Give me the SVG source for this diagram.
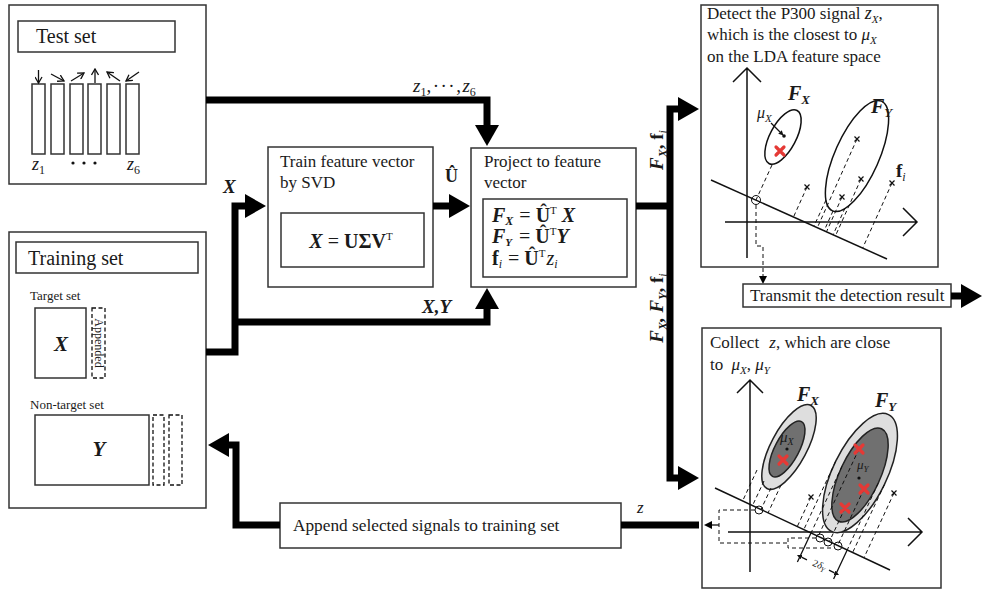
<svg xmlns="http://www.w3.org/2000/svg" width="982" height="590" viewBox="0 0 982 590">
<defs>
<style>
text{font-family:"Liberation Serif","Times New Roman",serif;fill:#1a1a1a}
.box{fill:#fff;stroke:#333;stroke-width:1.5}
.conn{fill:none;stroke:#000;stroke-width:7}
.thin{fill:none;stroke:#111;stroke-width:1.3}
.dash{fill:none;stroke:#111;stroke-width:1;stroke-dasharray:4 3}
.dbox{fill:none;stroke:#111;stroke-width:1.3;stroke-dasharray:4 2.5}
.ax{fill:none;stroke:#111;stroke-width:1.5}
.el{fill:none;stroke:#111;stroke-width:1.5}
.lg{fill:#dedede;stroke:#222;stroke-width:1.5}
.dg{fill:#707070;stroke:#222;stroke-width:1.5}
.bi{font-weight:bold;font-style:italic}
.b{font-weight:bold}
.i{font-style:italic}
.rx{stroke:#e53935;stroke-width:3.2;stroke-linecap:round}
.kx{stroke:#111;stroke-width:1.2}
.pt{fill:none;stroke:#111;stroke-width:1}
</style>
<marker id="ah" viewBox="0 0 21 24" refX="0" refY="12" markerWidth="21" markerHeight="24" markerUnits="userSpaceOnUse" orient="auto"><path d="M0,0 L21,12 L0,24 Z" fill="#000"/></marker>
<marker id="vh" viewBox="0 0 8 8" refX="7" refY="4" markerWidth="8" markerHeight="8" markerUnits="userSpaceOnUse" orient="auto"><path d="M1,0.5 L7,4 L1,7.5" fill="none" stroke="#111" stroke-width="1.3"/></marker>
<marker id="sh" viewBox="0 0 8 8" refX="0" refY="4" markerWidth="8" markerHeight="8" markerUnits="userSpaceOnUse" orient="auto"><path d="M0,0 L8,4 L0,8 Z" fill="#000"/></marker>
<marker id="sm" viewBox="0 0 6 6" refX="0" refY="3" markerWidth="5" markerHeight="5" markerUnits="userSpaceOnUse" orient="auto"><path d="M0,0 L6,3 L0,6 Z" fill="#111"/></marker>
<g id="redx"><path class="rx" d="M-4,-4 L4,4 M4,-4 L-4,4"/></g>
<g id="kx"><path class="kx" d="M-2.5,-2.5 L2.5,2.5 M2.5,-2.5 L-2.5,2.5"/></g>
</defs>
<rect width="982" height="590" fill="#fff"/>

<!-- Test set -->
<g id="test-set">
<rect class="box" x="9" y="5" width="197" height="179"/>
<rect class="box" x="18" y="21" width="157" height="31"/>
<text x="36" y="43" font-size="20">Test set</text>
<rect class="box" x="32" y="84" width="13" height="70"/>
<rect class="box" x="51" y="84" width="13" height="70"/>
<rect class="box" x="70" y="84" width="13" height="70"/>
<rect class="box" x="88" y="84" width="13" height="70"/>
<rect class="box" x="107" y="84" width="13" height="70"/>
<rect class="box" x="126" y="84" width="13" height="70"/>
<path class="thin" d="M38.5,70 V83" marker-end="url(#vh)"/>
<path class="thin" d="M51,74 L64,81" marker-end="url(#vh)"/>
<path class="thin" d="M71,81 L84,73" marker-end="url(#vh)"/>
<path class="thin" d="M95,83 V69" marker-end="url(#vh)"/>
<path class="thin" d="M120,81 L107,72" marker-end="url(#vh)"/>
<path class="thin" d="M139,72 L126,81" marker-end="url(#vh)"/>
<text x="32" y="170" font-size="18"><tspan class="i">z</tspan><tspan font-size="12" dy="4">1</tspan></text>
<circle cx="73" cy="163" r="1.6" fill="#111"/>
<circle cx="84" cy="163" r="1.6" fill="#111"/>
<circle cx="95" cy="163" r="1.6" fill="#111"/>
<text x="127" y="170" font-size="18"><tspan class="i">z</tspan><tspan font-size="12" dy="4">6</tspan></text>
</g>

<!-- Training set -->
<g id="training-set">
<rect class="box" x="9" y="232" width="197" height="276"/>
<rect class="box" x="16" y="242" width="182" height="31"/>
<text x="28" y="265" font-size="20">Training set</text>
<text x="30" y="300" font-size="13">Target set</text>
<rect class="box" x="35" y="308" width="51" height="70"/>
<text x="61" y="351" font-size="21" class="bi" text-anchor="middle">X</text>
<rect class="dbox" x="92" y="308" width="13" height="70"/>
<text transform="translate(94.5,343) rotate(90)" text-anchor="middle" font-size="12">Appended</text>
<text x="30" y="409" font-size="13">Non-target set</text>
<rect class="box" x="35" y="415" width="114" height="70"/>
<text x="99" y="456" font-size="21" class="bi" text-anchor="middle">Y</text>
<rect class="dbox" x="153" y="415" width="11" height="70"/>
<rect class="dbox" x="169" y="415" width="13" height="70"/>
</g>

<!-- Train feature vector -->
<g id="train-svd">
<rect class="box" x="268" y="147" width="165" height="140"/>
<text x="280" y="167" font-size="17">Train feature vector</text>
<text x="280" y="188" font-size="17">by SVD</text>
<rect class="box" x="281" y="213" width="143" height="54"/>
<text x="351" y="248" font-size="20" text-anchor="middle"><tspan class="bi">X</tspan> = <tspan class="b">UΣV</tspan><tspan font-size="11" dy="-8">T</tspan></text>
</g>

<!-- Project to feature vector -->
<g id="project">
<rect class="box" x="471" y="148" width="165" height="139"/>
<text x="484" y="167" font-size="17">Project to feature</text>
<text x="484" y="188" font-size="17">vector</text>
<rect class="box" x="483" y="199" width="144" height="78"/>
<text x="492" y="222" font-size="20"><tspan class="bi">F</tspan><tspan class="bi" font-size="12" dy="3">X</tspan><tspan dy="-3" dx="1"> = </tspan><tspan class="b">Û</tspan><tspan font-size="11" dy="-8">T</tspan><tspan class="bi" dy="8"> X</tspan></text>
<text x="492" y="243" font-size="20"><tspan class="bi">F</tspan><tspan class="bi" font-size="11" dy="3">Y</tspan><tspan dy="-3" dx="2"> = </tspan><tspan class="b">Û</tspan><tspan font-size="11" dy="-8">T</tspan><tspan class="bi" dy="8">Y</tspan></text>
<text x="492" y="265" font-size="20"><tspan class="b">f</tspan><tspan class="i" font-size="12" dy="3">i</tspan><tspan dy="-3" dx="1"> = </tspan><tspan class="b">Û</tspan><tspan font-size="11" dy="-8">T</tspan><tspan class="i" dy="8" dx="1">z</tspan><tspan class="i" font-size="12" dy="3">i</tspan></text>
</g>

<!-- Detect plot -->
<g id="detect">
<rect class="box" x="701" y="5" width="237" height="262"/>
<text x="707" y="19" font-size="17">Detect the P300 signal <tspan class="i" font-size="18">z</tspan><tspan class="i" font-size="11" dy="4">X</tspan><tspan dy="-4">,</tspan></text>
<text x="707" y="40" font-size="17">which is the closest to <tspan class="i">μ</tspan><tspan class="i" font-size="11" dy="4">X</tspan></text>
<text x="707" y="62" font-size="17">on the LDA feature space</text>
<path class="ax" d="M747,258 V68 M733,82 L747,68 L761,82"/>
<path class="ax" d="M725,222 H917 M903,208 L917,222 L903,236"/>
<path class="ax" d="M711,180 L887,259"/>
<ellipse class="el" cx="783" cy="137" rx="30" ry="13" transform="rotate(-62 783 137)"/>
<ellipse class="el" cx="857" cy="156" rx="60" ry="22" transform="rotate(-66 857 156)"/>
<path class="dash" d="M772,165 L756,200 M807,187 L793.5,217 M842,197 L826.4,232 M861,179 L835.4,236 M857,139 L817.2,228 M892,183 L862.7,248 M826,200 L814,226 M833,211 L824,231 M845,208 L833,235"/>
<circle class="pt" cx="756" cy="200" r="4.5"/>
<text x="788" y="100" font-size="20"><tspan class="bi">F</tspan><tspan class="bi" font-size="13" dy="4">X</tspan></text>
<text x="871" y="113" font-size="20"><tspan class="bi">F</tspan><tspan class="bi" font-size="13" dy="4">Y</tspan></text>
<text x="757" y="118" font-size="16"><tspan class="i">μ</tspan><tspan class="i" font-size="11" dy="4">X</tspan></text>
<path class="thin" d="M771,123 L780,132" marker-end="url(#sm)"/>
<circle cx="784" cy="136" r="1.8" fill="#111"/>
<use href="#redx" x="780" y="151"/>
<use href="#kx" x="857" y="139"/>
<use href="#kx" x="861" y="179"/>
<use href="#kx" x="842" y="197"/>
<use href="#kx" x="807" y="187"/>
<use href="#kx" x="892" y="183"/>
<text x="896" y="177" font-size="19"><tspan class="b">f</tspan><tspan class="i" font-size="12" dy="4">i</tspan></text>
<path class="dash" d="M756,205 V246 H763 V275"/>
<path d="M763,274 V276" stroke="#111" stroke-width="1" marker-end="url(#sh)"/>
</g>

<!-- Transmit -->
<g id="transmit">
<rect class="box" x="743" y="284" width="208" height="23"/>
<text x="750" y="301" font-size="17">Transmit the detection result</text>
</g>

<!-- Collect plot -->
<g id="collect">
<rect class="box" x="702" y="328" width="239" height="260"/>
<text x="710" y="348" font-size="17">Collect <tspan class="i" dx="6">z</tspan>, which are close</text>
<text x="710" y="370" font-size="17">to <tspan class="i" dx="4">μ</tspan><tspan class="i" font-size="11" dy="4">X</tspan><tspan dy="-4">, </tspan><tspan class="i">μ</tspan><tspan class="i" font-size="11" dy="4">Y</tspan></text>
<path class="ax" d="M750,572 V380 M737,393 L750,380 L763,393"/>
<path class="ax" d="M728,532 H922 M908,518 L922,532 L908,546"/>
<path class="ax" d="M715,488 L890,570"/>
<ellipse class="lg" cx="789" cy="447" rx="47" ry="18" transform="rotate(-62 789 447)"/>
<ellipse class="dg" cx="787" cy="449" rx="31" ry="12" transform="rotate(-62 787 449)"/>
<ellipse class="lg" cx="860" cy="473" rx="65" ry="27" transform="rotate(-64 860 473)"/>
<ellipse class="dg" cx="860" cy="475" rx="51" ry="20" transform="rotate(-65 860 475)"/>
<path class="dash" d="M757,470 L742.6,501 M764,481 L752.5,505.6 M771,488 L761,509.5 M781,485 L768,513 M859,449 L818.3,536 M845,508 L829.4,541.6 M864,489 L837.7,545.4 M811,497 L797.3,526.5 M894,493 L864,557.7 M841.9,466.5 L811,533 M878,483.5 L847.2,550 M835.7,461.2 L803.8,529.6 M884.3,484.8 L852.7,552.4"/>
<path class="thin" d="M811,533 L797.4,562 M847.2,550 L833.6,579" stroke-width="0.9"/>
<path class="thin" d="M807,559.8 L801.5,557.2" stroke-width="0.9" marker-end="url(#sm)"/>
<path class="thin" d="M829,570.2 L834.5,572.8" stroke-width="0.9" marker-end="url(#sm)"/>
<text transform="translate(818,568) rotate(25)" text-anchor="middle" font-size="10">2<tspan class="i">δ</tspan><tspan class="i" font-size="7" dy="2">Y</tspan></text>
<circle class="pt" cx="759" cy="510" r="4"/>
<circle class="pt" cx="820" cy="538" r="4"/>
<circle class="pt" cx="828" cy="542" r="4"/>
<circle class="pt" cx="838" cy="546" r="4"/>
<path class="dash" d="M755,510 H719 V543 H787"/>
<path class="dash" d="M816,538 H788 V548 H834"/>
<path d="M719,525 H712" stroke="#111" stroke-width="1.3" marker-end="url(#sh)"/>
<text x="797" y="401" font-size="20"><tspan class="bi">F</tspan><tspan class="bi" font-size="13" dy="4">X</tspan></text>
<text x="875" y="407" font-size="20"><tspan class="bi">F</tspan><tspan class="bi" font-size="13" dy="4">Y</tspan></text>
<text x="780" y="442" font-size="15"><tspan class="i">μ</tspan><tspan class="i" font-size="10" dy="3">X</tspan></text>
<circle cx="787" cy="449" r="1.6" fill="#111"/>
<text x="857" y="469" font-size="13"><tspan class="i">μ</tspan><tspan class="i" font-size="9" dy="3">Y</tspan></text>
<circle cx="859" cy="478" r="1.6" fill="#111"/>
<use href="#redx" x="783" y="460"/>
<use href="#redx" x="859" y="449"/>
<use href="#redx" x="864" y="489"/>
<use href="#redx" x="845" y="508"/>
<use href="#kx" x="811" y="497"/>
<use href="#kx" x="894" y="493"/>
</g>

<!-- Append -->
<g id="append">
<rect class="box" x="280" y="503" width="341" height="45"/>
<text x="293" y="531" font-size="17.3">Append selected signals to training set</text>
</g>

<!-- Connectors -->
<g id="connectors">
<path class="conn" d="M206,100 H487 V125" marker-end="url(#ah)"/>
<path class="conn" d="M206,352 H235 V206 H245" marker-end="url(#ah)"/>
<path class="conn" d="M235,322 H487 V309" marker-end="url(#ah)"/>
<path class="conn" d="M433,206 H449" marker-end="url(#ah)"/>
<path class="conn" d="M636,206 H670"/>
<path class="conn" d="M670,300 V109 H678" marker-end="url(#ah)"/>
<path class="conn" d="M670,300 V478 H678" marker-end="url(#ah)"/>
<path class="conn" d="M951,296 H961" marker-end="url(#ah)"/>
<path class="conn" d="M699,525 H621"/>
<path class="conn" d="M280,525 H236 V445 H229" marker-end="url(#ah)"/>
<text x="413" y="92" font-size="19"><tspan class="i">z</tspan><tspan font-size="12" dy="4">1</tspan><tspan dy="-4" letter-spacing="1.5">,···,</tspan><tspan class="i">z</tspan><tspan font-size="12" dy="4">6</tspan></text>
<text x="223" y="193" font-size="19" class="bi">X</text>
<text x="445" y="182" font-size="18" class="b">Û</text>
<text x="422" y="313" font-size="19" class="bi">X,Y</text>
<text x="637" y="513" font-size="17" class="i">z</text>
<text transform="translate(663,150) rotate(-90)" text-anchor="middle" font-size="19"><tspan class="bi">F</tspan><tspan class="bi" font-size="12" dy="4">X</tspan><tspan class="b" dy="-4">, f</tspan><tspan class="i" font-size="12" dy="4">i</tspan></text>
<text transform="translate(663,308) rotate(-90)" text-anchor="middle" font-size="19"><tspan class="bi">F</tspan><tspan class="bi" font-size="12" dy="4">X</tspan><tspan class="bi" dy="-4">, F</tspan><tspan class="bi" font-size="12" dy="4">Y</tspan><tspan class="b" dy="-4">, f</tspan><tspan class="i" font-size="12" dy="4">i</tspan></text>
</g>
</svg>
